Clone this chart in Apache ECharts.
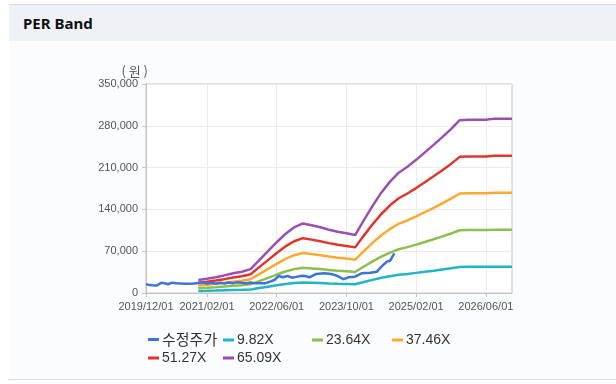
<!DOCTYPE html>
<html><head><meta charset="utf-8">
<script src="https://cdn.jsdelivr.net/npm/echarts@6/dist/echarts.min.js"></script>
<style>
html,body{margin:0;padding:0;background:#fff;width:616px;height:384px;overflow:hidden}
#panel{position:absolute;left:9px;top:4px;width:607px;height:374px;border-top:1px solid #d9dcdf;border-bottom:1px solid #d9dcdf;background:#fbfcfd}
#head{position:absolute;left:0;top:0;width:100%;height:36px;background:#eef2f7}
#head span{position:absolute;left:14px;top:8px;font:bold 15px "Noto Sans","DejaVu Sans",sans-serif;color:#111}
#chart{position:absolute;left:0;top:0;width:616px;height:384px}
</style></head>
<body>
<div id="panel"><div id="head"><span>PER Band</span></div></div>
<div id="chart"></div>
<script>
// ---- data ----
const xTickLabels = ['2019/12/01','2021/02/01','2022/06/01','2023/10/01','2025/02/01','2026/06/01'];
const priceDates = ['2019/12/01','2019/12/15','2020/01/15','2020/02/15','2020/03/15','2020/04/15','2020/05/01','2020/06/01','2020/07/01','2020/08/01','2020/09/01','2020/10/01','2020/11/01','2020/12/01','2021/01/01','2021/02/01','2021/03/01','2021/04/01','2021/05/01','2021/06/01','2021/07/01','2021/08/01','2021/09/01','2021/10/01','2021/11/01','2021/12/01','2022/01/01','2022/03/15','2022/04/15','2022/05/15','2022/06/15','2022/07/15','2022/08/15','2022/09/15','2022/10/15','2022/11/25','2022/12/25','2023/01/15','2023/03/01','2023/05/01','2023/06/15','2023/07/25','2023/09/10','2023/10/15','2023/12/01','2024/01/15','2024/03/15','2024/05/01','2024/06/01','2024/07/10','2024/08/01','2024/09/01'];
const priceValues = [14600,14000,13000,12500,17000,16000,14600,17300,16500,16000,15500,15500,15800,16700,17500,16000,17000,15500,17000,16000,17500,16500,18000,17000,16500,17500,16500,16500,19000,21800,28500,26300,28500,25700,27000,29000,28000,26300,31800,33000,32000,29000,23000,26300,27300,33000,34000,35700,44000,52500,54000,66500];
const bandDates = ['2020/12/01','2021/02/01','2021/04/01','2021/06/01','2021/08/01','2021/10/01','2021/12/01','2022/02/01','2022/04/01','2022/06/01','2022/08/01','2022/10/01','2022/12/01','2023/02/01','2023/04/01','2023/06/01','2023/08/01','2023/10/01','2023/12/01','2024/02/01','2024/04/01','2024/06/01','2024/08/01','2024/10/01','2024/12/01','2025/02/01','2025/04/01','2025/06/01','2025/08/01','2025/10/01','2025/12/01','2026/02/01','2026/04/01','2026/06/01','2026/08/01','2026/10/01','2026/12/01'];
const band982  = [3300,3600,4000,4500,5000,5400,6000,8300,10600,12800,14900,16600,17600,17100,16600,16000,15500,15100,14600,18400,22000,25400,28100,30400,31900,33700,35500,37400,39400,41400,43700,43800,43800,43800,44100,44100,44100];
const band2364 = [7900,8700,9600,10700,12000,12900,14500,20000,25400,30900,36000,40000,42300,41200,40000,38500,37200,36300,35200,44300,53000,61000,67700,73200,76800,81000,85500,90100,94800,99700,105100,105300,105300,105300,106000,106000,106000];
const band3746 = [12500,13800,15300,17000,19000,20400,23000,31700,40300,48900,57000,63300,67000,65300,63300,61000,59000,57600,55800,70200,84000,96700,107300,116000,121700,128300,135500,142700,150200,158000,166600,166900,166900,166900,168000,168000,168000];
const band5127 = [17100,18900,20900,23200,26000,28000,31500,43300,55100,67000,78000,86600,91800,89400,86600,83500,80700,78800,76400,96100,115000,132300,146900,158700,166600,175700,185500,195400,205600,216200,228000,228400,228400,228400,230000,230000,230000];
const band6509 = [21700,24000,26500,29500,33000,35500,40000,55000,70000,85000,99000,110000,116500,113500,110000,106000,102500,100000,97000,122000,146000,168000,186500,201500,211500,223000,235500,248000,261000,274500,289500,290000,290000,290000,292000,292000,292000];
const seriesNames = ['수정주가','9.82X','23.64X','37.46X','51.27X','65.09X'];

// month index relative to 2019/12/01
function mIdx(s){const p=s.split('/').map(Number);return (p[0]-2019)*12+(p[1]-12)+(p[2]-1)/30;}
function pairs(d,v){return d.map((s,i)=>[mIdx(s),v[i]]);}
const tickPos = xTickLabels.map(mIdx);
const labelMap = {}; tickPos.forEach((p,i)=>labelMap[p]=xTickLabels[i]);

const colors = ['#3b74d8','#1fb5c6','#8cbf4c','#ffa82e','#e3342c','#9a4fb2'];
const dataSets = [pairs(priceDates,priceValues),pairs(bandDates,band982),pairs(bandDates,band2364),pairs(bandDates,band3746),pairs(bandDates,band5127),pairs(bandDates,band6509)];

const legendPos = [[143,327],[218,328],[307,328],[387,328],[143,346],[218,346]];
const legends = seriesNames.map((n,i)=>({
  data:[n], left:legendPos[i][0], top:legendPos[i][1], icon:'rect', itemWidth:11, itemHeight:3, itemGap:0,
  textStyle:{fontSize:i===0?15:14, color:'#333', fontFamily:i===0?'"Noto Sans CJK KR",sans-serif':'"Liberation Sans",Arial,sans-serif', padding:[0,0,0,-2]}
}));

const chart = echarts.init(document.getElementById('chart'), null, {renderer:'canvas'});
chart.setOption({
  animation:false,
  color:colors,
  legend:legends,
  grid:{left:146,right:104,top:84,bottom:91,show:true,backgroundColor:'#fff',borderColor:'#c4c4c4',borderWidth:1},
  xAxis:{type:'value',min:0,max:84,
    axisLine:{show:true,lineStyle:{color:'#c4c4c4'}},
    axisTick:{show:true,customValues:tickPos,length:4,lineStyle:{color:'#c4c4c4'}},
    axisLabel:{customValues:tickPos,formatter:v=>labelMap[v]||'',fontSize:11,color:'#555',margin:8,fontFamily:'"Liberation Sans",Arial,sans-serif'},
    splitLine:{show:true,lineStyle:{color:'#ececec'}}},
  yAxis:{type:'value',min:0,max:350000,interval:70000,
    name:'( 원 )',nameLocation:'end',nameGap:6,
    nameTextStyle:{fontSize:13,color:'#555',align:'right',padding:[0,-2,0,0],fontFamily:'"Noto Sans CJK KR",sans-serif'},
    axisLine:{show:true,lineStyle:{color:'#c4c4c4'}},
    axisTick:{show:true,length:4,lineStyle:{color:'#c4c4c4'}},
    axisLabel:{formatter:v=>v.toLocaleString('en-US'),fontSize:11,color:'#555',margin:8,fontFamily:'"Liberation Sans",Arial,sans-serif'},
    splitLine:{show:true,lineStyle:{color:'#ececec'}}},
  series:seriesNames.map((n,i)=>({
    name:n,type:'line',data:dataSets[i],showSymbol:false,symbol:'none',
    lineStyle:{width:2.5,color:colors[i]},itemStyle:{color:colors[i]},
    z:i===0?10:2+i
  }))
});
</script>
</body></html>
